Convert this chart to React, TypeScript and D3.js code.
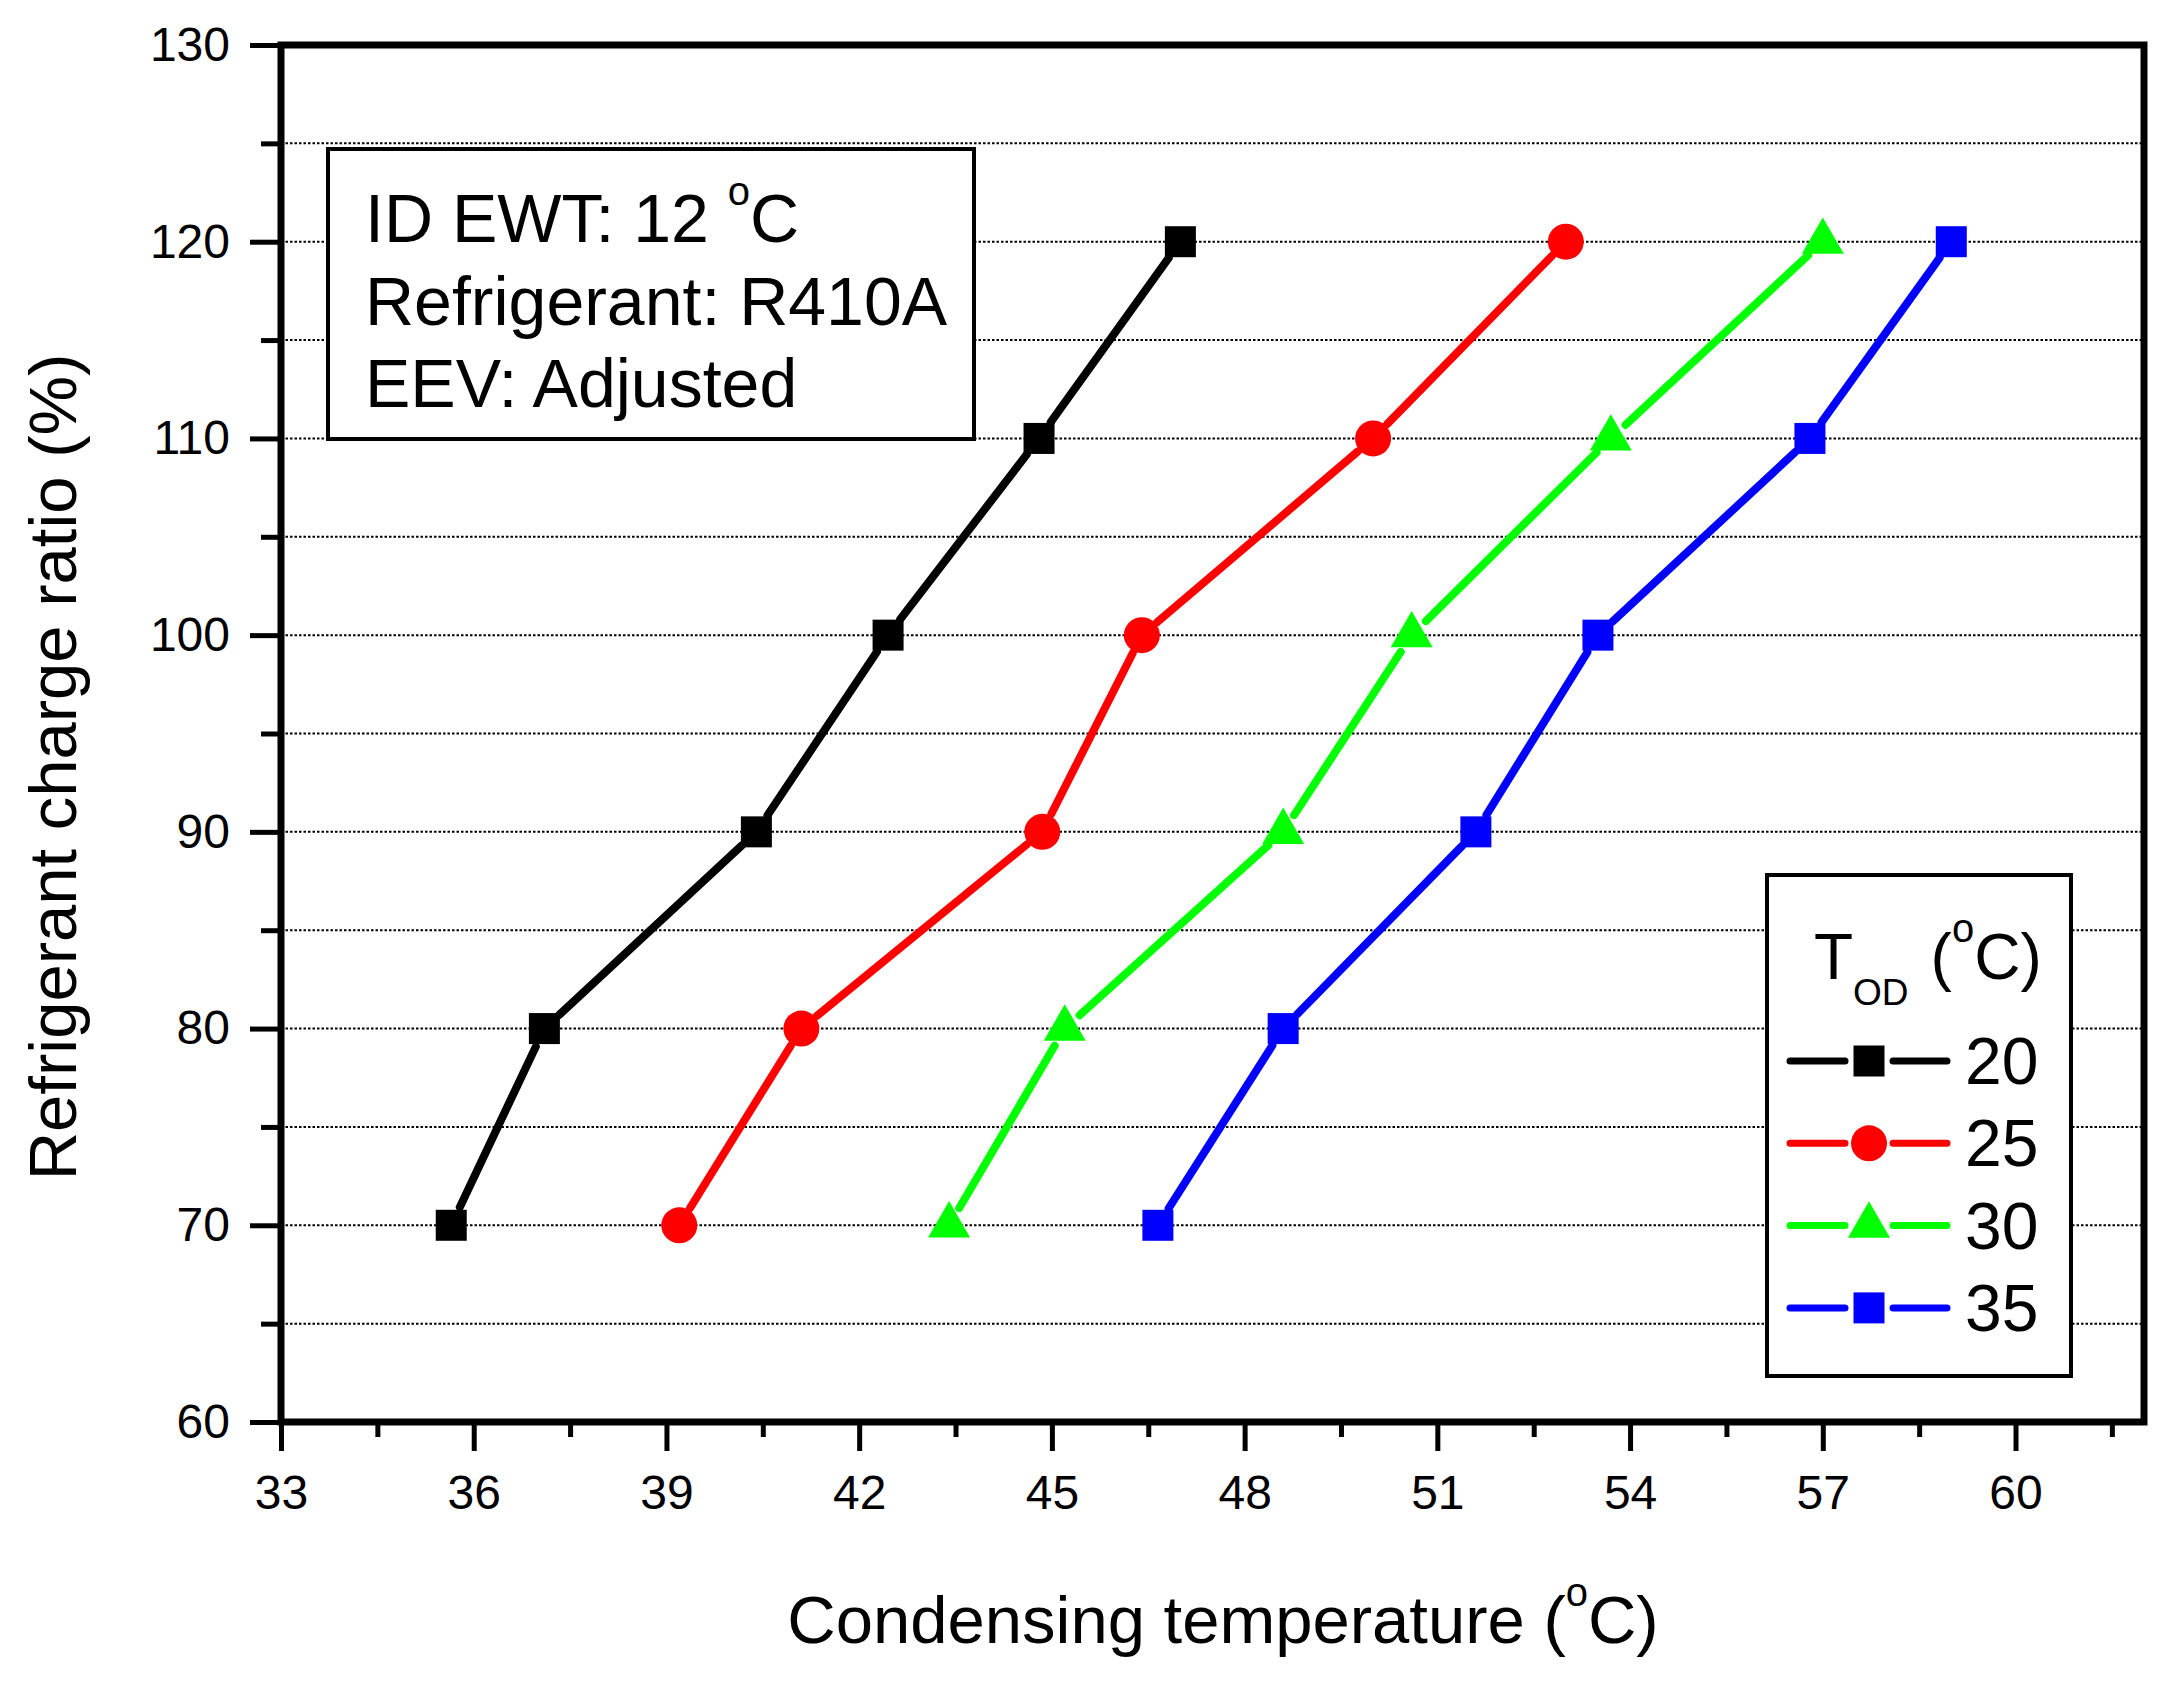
import React, { useRef, useEffect } from 'react';
import * as d3 from 'd3';

// Refrigerant charge ratio (%) on the y axis, shared by every series
const chargeRatio = [70, 80, 90, 100, 110, 120];

// Condensing temperature (°C) per outdoor temperature
const tod20 = [35.65, 37.1, 40.4, 42.45, 44.8, 47.0];
const tod25 = [39.2, 41.1, 44.85, 46.4, 50.0, 53.0];
const tod30 = [43.4, 45.2, 48.6, 50.6, 53.7, 57.0];
const tod35 = [46.65, 48.6, 51.6, 53.5, 56.8, 59.0];

const seriesLabels = ['20', '25', '30', '35'];
const seriesValues = [tod20, tod25, tod30, tod35];
const seriesColors = ['#000000', '#ff0000', '#00ff00', '#0000ff'];
const seriesSymbols = [d3.symbolSquare, d3.symbolCircle, d3.symbolTriangle, d3.symbolSquare];
const symbolSizes = [961, 1018, 764, 961];

const xTicks = [33, 36, 39, 42, 45, 48, 51, 54, 57, 60];
const xMinorTicks = [34.5, 37.5, 40.5, 43.5, 46.5, 49.5, 52.5, 55.5, 58.5, 61.5];
const yTicks = [60, 70, 80, 90, 100, 110, 120, 130];
const yMinorTicks = [65, 75, 85, 95, 105, 115, 125];

const infoLines = ['ID EWT: 12 ', 'Refrigerant: R410A', 'EEV: Adjusted'];

const FONT = '"Liberation Sans", Arial, Helvetica, sans-serif';

const App: React.FC = () => {
  const svgRef = useRef<SVGSVGElement>(null);

  useEffect(() => {
    if (!svgRef.current) return;

    const width = 2173;
    const height = 1682;
    const margin = { top: 45, right: 29, bottom: 260, left: 281 };
    const innerWidth = width - margin.left - margin.right;
    const innerHeight = height - margin.top - margin.bottom;

    const root = d3.select(svgRef.current);
    root.selectAll('*').remove();
    root.attr('width', width).attr('height', height);

    root.append('rect').attr('width', width).attr('height', height).attr('fill', '#fff');

    const xScale = d3.scaleLinear().domain([33, 62]).range([0, innerWidth]);
    const yScale = d3.scaleLinear().domain([60, 130]).range([innerHeight, 0]);

    const svg = root
      .append('g')
      .attr('transform', `translate(${margin.left},${margin.top})`)
      .attr('font-family', FONT);

    // dotted horizontal grid
    const gridValues = [...yMinorTicks, ...yTicks.filter((v) => v > 60 && v < 130)];
    svg
      .selectAll('.grid')
      .data(gridValues)
      .enter()
      .append('line')
      .attr('class', 'grid')
      .attr('x1', 0)
      .attr('x2', innerWidth)
      .attr('y1', (d) => yScale(d))
      .attr('y2', (d) => yScale(d))
      .attr('stroke', '#000')
      .attr('stroke-width', 2)
      .attr('stroke-dasharray', '2.5,2');

    // info box
    const info = svg.append('g');
    info
      .append('rect')
      .attr('x', 47)
      .attr('y', 104)
      .attr('width', 646)
      .attr('height', 290)
      .attr('fill', '#fff')
      .attr('stroke', '#000')
      .attr('stroke-width', 4);
    infoLines.forEach((line, i) => {
      const t = info
        .append('text')
        .attr('x', 84)
        .attr('y', 197 + i * 82.5)
        .attr('font-size', 68)
        .attr('fill', '#000')
        .text(i === 0 ? null : line);
      if (i === 0) {
        t.append('tspan').text(line);
        t.append('tspan').attr('font-size', 40).attr('dy', -37).text('o');
        t.append('tspan').attr('dy', 37).text('C');
      }
    });

    // legend
    const legend = svg.append('g');
    legend
      .append('rect')
      .attr('x', 1486)
      .attr('y', 830)
      .attr('width', 304)
      .attr('height', 501)
      .attr('fill', '#fff')
      .attr('stroke', '#000')
      .attr('stroke-width', 4);
    const title = legend.append('text').attr('x', 1533).attr('y', 934).attr('font-size', 64).attr('fill', '#000');
    title.append('tspan').text('T');
    title.append('tspan').attr('font-size', 37).attr('dy', 26).text('OD');
    title.append('tspan').attr('dy', -26).attr('dx', 22).text('(');
    title.append('tspan').attr('font-size', 40).attr('dy', -37).text('o');
    title.append('tspan').attr('dy', 37).text('C)');

    seriesLabels.forEach((label, i) => {
      const cy = 1016 + i * 82.3;
      const row = legend.append('g');
      [
        [1509, 1564],
        [1612, 1666],
      ].forEach(([a, b]) => {
        row
          .append('line')
          .attr('x1', a)
          .attr('x2', b)
          .attr('y1', cy)
          .attr('y2', cy)
          .attr('stroke', seriesColors[i])
          .attr('stroke-width', 7)
          .attr('stroke-linecap', 'round');
      });
      row
        .append('path')
        .attr('d', d3.symbol().type(seriesSymbols[i]).size(symbolSizes[i])()!)
        .attr('transform', `translate(1588,${cy})`)
        .attr('fill', seriesColors[i]);
      row
        .append('text')
        .attr('x', 1684)
        .attr('y', cy + 23)
        .attr('font-size', 66)
        .attr('fill', '#000')
        .text(label);
    });

    // series lines with a gap around each marker
    const gap = 20;
    seriesValues.forEach((vals, i) => {
      const pts = vals.map((v, j) => [xScale(v), yScale(chargeRatio[j])] as [number, number]);
      const segs = d3.pairs(pts).map(([p1, p2]) => {
        const dx = p2[0] - p1[0];
        const dy = p2[1] - p1[1];
        const d = Math.hypot(dx, dy);
        const k = gap / d;
        return [p1[0] + dx * k, p1[1] + dy * k, p2[0] - dx * k, p2[1] - dy * k];
      });
      svg
        .selectAll(`.seg-${i}`)
        .data(segs)
        .enter()
        .append('line')
        .attr('class', `seg-${i}`)
        .attr('x1', (s) => s[0])
        .attr('y1', (s) => s[1])
        .attr('x2', (s) => s[2])
        .attr('y2', (s) => s[3])
        .attr('stroke', seriesColors[i])
        .attr('stroke-width', 8)
        .attr('stroke-linecap', 'round');
      svg
        .selectAll(`.pt-${i}`)
        .data(pts)
        .enter()
        .append('path')
        .attr('class', `pt-${i}`)
        .attr('d', d3.symbol().type(seriesSymbols[i]).size(symbolSizes[i])()!)
        .attr('transform', (p) => `translate(${p[0]},${p[1]})`)
        .attr('fill', seriesColors[i]);
    });

    // axes
    const styleAxis = (g: d3.Selection<SVGGElement, unknown, null, undefined>) => {
      g.select('.domain').remove();
      g.attr('font-size', 48).attr('font-family', FONT);
      g.selectAll('line').attr('stroke', '#000').attr('stroke-width', 5);
      g.selectAll('text').attr('fill', '#000');
    };

    svg
      .append('g')
      .attr('transform', `translate(0,${innerHeight})`)
      .call(d3.axisBottom(xScale).tickValues(xMinorTicks).tickSize(15).tickFormat(() => ''))
      .call(styleAxis);
    svg
      .append('g')
      .attr('transform', `translate(0,${innerHeight})`)
      .call(d3.axisBottom(xScale).tickValues(xTicks).tickSize(29).tickPadding(24).tickFormat(d3.format('d')))
      .call(styleAxis);
    svg
      .append('g')
      .call(d3.axisLeft(yScale).tickValues(yMinorTicks).tickSize(20).tickFormat(() => ''))
      .call(styleAxis);
    svg
      .append('g')
      .call(d3.axisLeft(yScale).tickValues(yTicks).tickSize(31).tickPadding(20).tickFormat(d3.format('d')))
      .call(styleAxis);

    // frame
    svg
      .append('rect')
      .attr('x', 0)
      .attr('y', 0)
      .attr('width', innerWidth)
      .attr('height', innerHeight)
      .attr('fill', 'none')
      .attr('stroke', '#000')
      .attr('stroke-width', 7);

    // axis titles
    const xTitle = root
      .append('text')
      .attr('x', 1223)
      .attr('y', 1643)
      .attr('text-anchor', 'middle')
      .attr('font-family', FONT)
      .attr('font-size', 67)
      .attr('fill', '#000');
    xTitle.append('tspan').text('Condensing temperature (');
    xTitle.append('tspan').attr('font-size', 40).attr('dy', -37).text('o');
    xTitle.append('tspan').attr('dy', 37).text('C)');

    root
      .append('text')
      .attr('transform', 'translate(76,767) rotate(-90)')
      .attr('text-anchor', 'middle')
      .attr('font-family', FONT)
      .attr('font-size', 67)
      .attr('fill', '#000')
      .text('Refrigerant charge ratio (%)');
  }, []);

  return <svg ref={svgRef} style={{ position: 'absolute', left: 0, top: 0 }}></svg>;
};

export default App;
